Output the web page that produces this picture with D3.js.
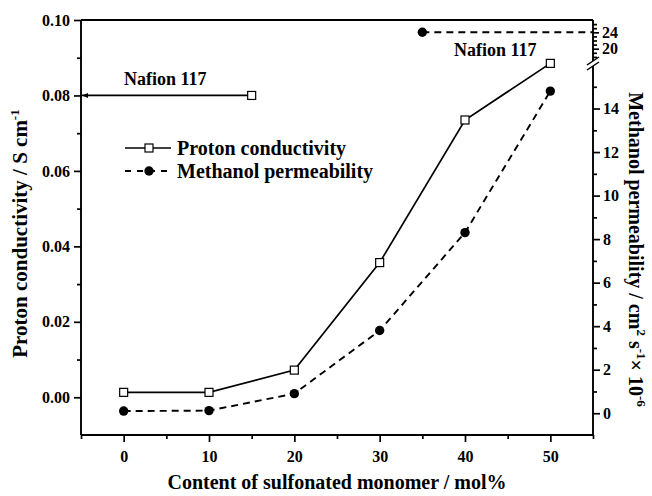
<!DOCTYPE html>
<html>
<head>
<meta charset="utf-8">
<script src="https://cdn.jsdelivr.net/npm/d3@7"></script>
<style>
  html, body { margin: 0; padding: 0; background: #fff; }
  svg { display: block; }
  text { font-family: "Liberation Serif", "Times New Roman", serif; font-weight: bold; fill: #000; }
</style>
</head>
<body>
<svg id="chart" width="652" height="496"></svg>
<script>
// ---- data ----
const content = [0, 10, 20, 30, 40, 50];                       // mol%
const protonConductivity = [0.0013, 0.0013, 0.0072, 0.0357, 0.0735, 0.0885]; // S cm-1
const methanolPermeability = [0.1, 0.12, 0.9, 3.8, 8.3, 14.8];  // x10^-6 cm2 s-1
const nafionContent = [15, 35];
const nafionConductivity = 0.08;
const nafionPermeability = 24;
const xMajorTicks = [0, 10, 20, 30, 40, 50];
const xMinorTicks = [-5, 5, 15, 25, 35, 45, 55];
const yLeftMajor = [0, 0.02, 0.04, 0.06, 0.08, 0.10];
const yLeftMinor = [0.01, 0.03, 0.05, 0.07, 0.09];
const yRightMajor = [0, 2, 4, 6, 8, 10, 12, 14];
const yRightMinor = [1, 3, 5, 7, 9, 11, 13, 15];
const yRightUpperMajor = [20, 24];
const yRightUpperMinor = [18, 19, 21, 22, 23, 25, 26];

const svg = d3.select("#chart");
const L = 81, R = 593, T = 20, B = 435;

const x = d3.scaleLinear([-5, 55], [L, R]);
const yL = d3.scaleLinear([-0.01, 0.10], [B, T]);
const yR = d3.scaleLinear([-1, 16], [B, 65]);
const yRU = d3.scaleLinear([17, 27], [61, T]);

const axisW = 1.9;
function styleAxis(g, fs) {
  g.select(".domain").remove();
  g.selectAll(".tick line").attr("stroke", "#000").attr("stroke-width", 1.7);
  g.selectAll(".tick text").attr("font-family", "Liberation Serif, serif")
    .attr("font-weight", "bold").attr("font-size", fs).attr("fill", "#000");
}

// bottom axis
svg.append("g").attr("transform", `translate(0,${B})`)
  .call(d3.axisBottom(x).tickValues(xMajorTicks).tickSize(7).tickPadding(9).tickFormat(d3.format("d")))
  .call(g => styleAxis(g, 16));
svg.append("g").attr("transform", `translate(0,${B})`)
  .call(d3.axisBottom(x).tickValues(xMinorTicks).tickSize(4).tickFormat(""))
  .call(g => styleAxis(g, 16));

// left axis
svg.append("g").attr("transform", `translate(${L},0)`)
  .call(d3.axisLeft(yL).tickValues(yLeftMajor).tickSize(7).tickPadding(4).tickFormat(d3.format(".2f")))
  .call(g => styleAxis(g, 16));
svg.append("g").attr("transform", `translate(${L},0)`)
  .call(d3.axisLeft(yL).tickValues(yLeftMinor).tickSize(4).tickFormat(""))
  .call(g => styleAxis(g, 16));

// right axis lower segment
svg.append("g").attr("transform", `translate(${R},0)`)
  .call(d3.axisRight(yR).tickValues(yRightMajor).tickSize(7).tickPadding(3).tickFormat(d3.format("d")))
  .call(g => styleAxis(g, 16));
svg.append("g").attr("transform", `translate(${R},0)`)
  .call(d3.axisRight(yR).tickValues(yRightMinor).tickSize(4).tickFormat(""))
  .call(g => styleAxis(g, 16));
// right axis upper segment
svg.append("g").attr("transform", `translate(${R},0)`)
  .call(d3.axisRight(yRU).tickValues(yRightUpperMajor).tickSize(6).tickPadding(3).tickFormat(d3.format("d")))
  .call(g => styleAxis(g, 16));
svg.append("g").attr("transform", `translate(${R},0)`)
  .call(d3.axisRight(yRU).tickValues(yRightUpperMinor).tickSize(4).tickFormat(""))
  .call(g => styleAxis(g, 16));

// frame lines
const frame = svg.append("g").attr("stroke", "#000").attr("stroke-width", axisW).attr("fill", "none");
frame.append("line").attr("x1", L).attr("x2", R + 1).attr("y1", B).attr("y2", B);
frame.append("line").attr("x1", L).attr("x2", R).attr("y1", T).attr("y2", T);
frame.append("line").attr("x1", L).attr("x2", L).attr("y1", T).attr("y2", B);
frame.append("line").attr("x1", R).attr("x2", R).attr("y1", T).attr("y2", yRU(17));
frame.append("line").attr("x1", R).attr("x2", R).attr("y1", yR(16) + 1).attr("y2", B);
// axis break marks
const bm = (yRU(17) + yR(16)) / 2;
frame.append("line").attr("x1", R - 6).attr("y1", bm + 2).attr("x2", R + 6).attr("y2", bm - 6).attr("stroke-width", 1.5);
frame.append("line").attr("x1", R - 6).attr("y1", bm + 7).attr("x2", R + 6).attr("y2", bm - 1).attr("stroke-width", 1.5);

// series lines
const lineP = d3.line().x((d, i) => x(content[i])).y(d => yL(d));
const lineM = d3.line().x((d, i) => x(content[i])).y(d => yR(d));
svg.append("path").datum(protonConductivity).attr("d", lineP)
  .attr("fill", "none").attr("stroke", "#000").attr("stroke-width", 1.7);
svg.append("path").datum(methanolPermeability).attr("d", lineM)
  .attr("fill", "none").attr("stroke", "#000").attr("stroke-width", 1.9).attr("stroke-dasharray", "7,5");

// Nafion reference lines
svg.append("line").attr("x1", x(-5) + 1).attr("x2", x(nafionContent[0]))
  .attr("y1", yL(nafionConductivity)).attr("y2", yL(nafionConductivity))
  .attr("stroke", "#000").attr("stroke-width", 1.7);
svg.append("path")
  .attr("d", `M${x(-5) + 1},${yL(nafionConductivity)} l6,-2.5 l0,5 z`)
  .attr("fill", "#000");
svg.append("line").attr("x1", x(nafionContent[1])).attr("x2", R)
  .attr("y1", yRU(nafionPermeability)).attr("y2", yRU(nafionPermeability))
  .attr("stroke", "#000").attr("stroke-width", 1.9).attr("stroke-dasharray", "7,5");

// markers
const sq = 8;
function square(g, cx, cy) {
  g.append("rect").attr("x", cx - sq / 2).attr("y", cy - sq / 2).attr("width", sq).attr("height", sq)
    .attr("fill", "#fff").attr("stroke", "#000").attr("stroke-width", 1.2);
}
function dot(g, cx, cy) {
  g.append("circle").attr("cx", cx).attr("cy", cy).attr("r", 4.7).attr("fill", "#000");
}
const mk = svg.append("g");
protonConductivity.forEach((v, i) => square(mk, x(content[i]), yL(v)));
methanolPermeability.forEach((v, i) => dot(mk, x(content[i]), yR(v)));
square(mk, x(nafionContent[0]), yL(nafionConductivity));
dot(mk, x(nafionContent[1]), yRU(nafionPermeability));

// Nafion labels
svg.append("text").attr("x", 124).attr("y", 85).attr("font-size", 18).text("Nafion 117");
svg.append("text").attr("x", 454).attr("y", 56).attr("font-size", 18).text("Nafion 117");

// legend
const lg = svg.append("g");
lg.append("line").attr("x1", 125).attr("x2", 171).attr("y1", 148).attr("y2", 148)
  .attr("stroke", "#000").attr("stroke-width", 1.7);
square(lg, 149, 148);
lg.append("text").attr("x", 177).attr("y", 155).attr("font-size", 20).text("Proton conductivity");
lg.append("line").attr("x1", 125).attr("x2", 173).attr("y1", 171).attr("y2", 171)
  .attr("stroke", "#000").attr("stroke-width", 1.9).attr("stroke-dasharray", "6,6");
dot(lg, 149, 171);
lg.append("text").attr("x", 177).attr("y", 178).attr("font-size", 20).text("Methanol permeability");

// axis titles
svg.append("text").attr("x", (L + R) / 2).attr("y", 489).attr("text-anchor", "middle")
  .attr("font-size", 20).text("Content of sulfonated monomer / mol%");

const lt = svg.append("text").attr("transform", `translate(27,${(T + B) / 2 + 6}) rotate(-90)`)
  .attr("text-anchor", "middle").attr("font-size", 21);
lt.append("tspan").text("Proton conductivity / S cm");
lt.append("tspan").attr("dy", -8).attr("font-size", 13).text("-1");

const rt = svg.append("text").attr("transform", `translate(629,${(T + B) / 2 + 22}) rotate(90)`)
  .attr("text-anchor", "middle").attr("font-size", 20);
rt.append("tspan").text("Methanol permeability / cm");
rt.append("tspan").attr("dy", -8).attr("font-size", 13).text("2");
rt.append("tspan").attr("dy", 8).text(" s");
rt.append("tspan").attr("dy", -8).attr("font-size", 13).text("-1");
rt.append("tspan").attr("dy", 8).text("× 10");
rt.append("tspan").attr("dy", -8).attr("font-size", 13).text("-6");
</script>
</body>
</html>
